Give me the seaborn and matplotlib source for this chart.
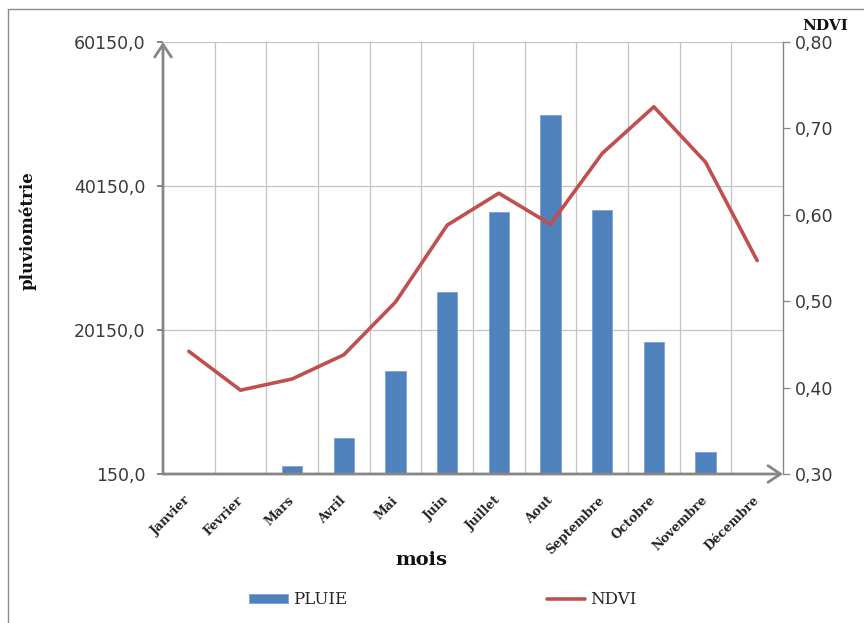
import matplotlib
matplotlib.use("Agg")
import matplotlib.pyplot as plt
import matplotlib.ticker as mticker
from matplotlib.lines import Line2D
from matplotlib.patches import Patch
from matplotlib.transforms import ScaledTranslation
import numpy as np
import pandas as pd
import seaborn as sns

# Monthly rainfall (bars, left axis) and NDVI (line, right axis)
months = ["Janvier", "Fevrier", "Mars", "Avril", "Mai", "Juin", "Juillet",
          "Aout", "Septembre", "Octobre", "Novembre", "Décembre"]
pluie = [0, 0, 1250, 5100, 14450, 25400, 36600, 50000, 36800, 18450, 3250, 0]
ndvi = [0.442, 0.397, 0.410, 0.438, 0.499, 0.588, 0.625, 0.589, 0.671,
        0.725, 0.661, 0.547]
rain_ticks = [150, 20150, 40150, 60150]
ndvi_ticks = [0.30, 0.40, 0.50, 0.60, 0.70, 0.80]

BLUE = "#4F81BD"
RED = "#C0504D"
AXIS_GREY = "#868686"
GRID_GREY = "#C4C4C4"
TEXT_DARK = "#3a3a3a"

sns.set_style("white")
plt.rcParams["font.family"] = ["DejaVu Sans"]

df = pd.DataFrame({"mois": months, "pluie": pluie, "ndvi": ndvi})
df["pos"] = df.index

W, H = 864, 623
fig = plt.figure(figsize=(W / 100, H / 100), dpi=100)
ax = fig.add_axes([163 / W, 149 / H, 620 / W, 432 / H])

sns.barplot(data=df, x="mois", y="pluie", ax=ax, color=BLUE, saturation=1,
            width=0.39, edgecolor="#7FA3D3", linewidth=0.6, zorder=3)

ax.set_xlim(-0.5, 11.5)
ax.set_ylim(rain_ticks[0], rain_ticks[-1])
ax.set_yticks(rain_ticks)
ax.yaxis.set_major_formatter(mticker.FuncFormatter(lambda v, p: f"{v:.1f}".replace(".", ",")))

# gridlines: horizontal at rain ticks, vertical between months
ax.set_xticks(np.arange(12))
ax.set_xticks(np.arange(0.5, 11.0, 1.0), minor=True)
ax.yaxis.grid(True, color=GRID_GREY, lw=0.9, zorder=0)
ax.xaxis.grid(True, which="minor", color=GRID_GREY, lw=0.9, zorder=0)
ax.xaxis.grid(False, which="major")
ax.set_axisbelow(True)

ax.set_xticklabels(months, rotation=45, ha="right", va="center",
                   rotation_mode="anchor", fontfamily="DejaVu Serif",
                   fontweight="bold", fontsize=9, color="#222222")
shift = ScaledTranslation(7 / 100, 0, fig.dpi_scale_trans)
for lbl in ax.get_xticklabels():
    lbl.set_transform(lbl.get_transform() + shift)

ax.tick_params(axis="x", which="both", length=0, pad=17.5)
ax.tick_params(axis="y", length=4.3, width=1.4, color=AXIS_GREY,
               direction="out", pad=8.5, labelsize=12.5, labelcolor=TEXT_DARK)
for s in ax.spines.values():
    s.set_visible(False)
ax.set_xlabel("")
ax.set_ylabel("")

# arrow-headed left and bottom axes
arrow = dict(arrowstyle="->,head_length=0.9,head_width=0.6", color=AXIS_GREY,
             lw=2.0, shrinkA=0, shrinkB=0, mutation_scale=10)
ax.annotate("", xy=(0, 1), xytext=(0, 0), xycoords="axes fraction",
            textcoords="axes fraction", arrowprops=arrow, annotation_clip=False)
ax.annotate("", xy=(1, 0), xytext=(0, 0), xycoords="axes fraction",
            textcoords="axes fraction", arrowprops=arrow, annotation_clip=False)

# NDVI on the secondary axis
ax2 = ax.twinx()
sns.lineplot(data=df, x="pos", y="ndvi", ax=ax2, color=RED, linewidth=2.6,
             sort=False, zorder=4)
ax2.set_xlim(-0.5, 11.5)
ax2.set_ylim(ndvi_ticks[0], ndvi_ticks[-1])
ax2.set_yticks(ndvi_ticks)
ax2.yaxis.set_major_formatter(mticker.FuncFormatter(lambda v, p: f"{v:.2f}".replace(".", ",")))
ax2.tick_params(axis="y", length=5, width=0.9, color=AXIS_GREY, direction="out",
                pad=3.8, labelsize=12.5, labelcolor=TEXT_DARK)
ax2.set_ylabel("")
ax2.set_xlabel("")
for name, s in ax2.spines.items():
    s.set_visible(name == "right")
ax2.spines["right"].set_color(AXIS_GREY)
ax2.spines["right"].set_linewidth(1.0)

# axis titles
fig.text(28 / W, 1 - 231 / H, "pluviométrie", rotation=90, ha="center",
         va="center", family="DejaVu Serif", weight="bold", fontsize=12,
         color="#111111")
fig.text(421 / W, 1 - 560 / H, "mois", ha="center", va="center",
         family="DejaVu Serif", weight="bold", fontsize=14, color="#111111")
fig.text(825 / W, 1 - 26 / H, "NDVI", ha="center", va="center",
         family="DejaVu Serif", weight="bold", fontsize=11, color="#111111")

# legend
handles = [Patch(facecolor=BLUE, edgecolor="#7FA3D3", lw=0.6, label="PLUIE"),
           Line2D([], [], color=RED, lw=2.6, label="NDVI")]
fig.legend(handles=handles, loc="center", bbox_to_anchor=(443 / W, 1 - 600 / H),
           ncol=2, frameon=False, columnspacing=12.0, handlelength=2.3,
           handleheight=0.5, handletextpad=0.3,
           prop=dict(family="DejaVu Serif", size=12))

# outer frame (left and top edges)
fig.add_artist(Line2D([8 / W, 8 / W], [0, 1 - 9 / H], transform=fig.transFigure,
                      color="#8c8c8c", lw=1))
fig.add_artist(Line2D([8 / W, 1], [1 - 9 / H, 1 - 9 / H], transform=fig.transFigure,
                      color="#8c8c8c", lw=1))

fig.savefig("out.png", dpi=100)
